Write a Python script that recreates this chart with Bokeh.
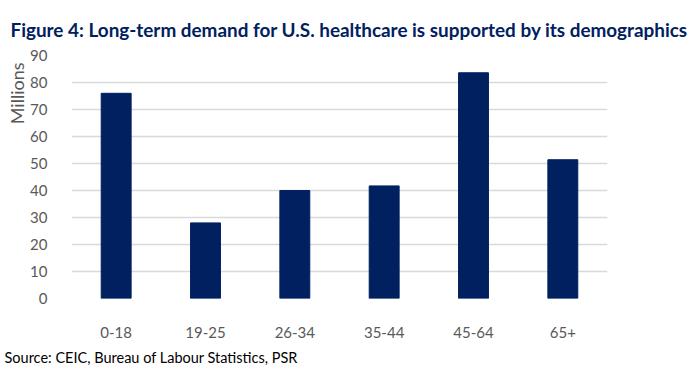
import math
from bokeh.plotting import figure
from bokeh.models import Title, FixedTicker, Range1d
from bokeh.embed import file_html
from bokeh.resources import INLINE

categories = ["0-18", "19-25", "26-34", "35-44", "45-64", "65+"]
values = [76.0, 28.0, 40.0, 41.7, 83.6, 51.4]
y_ticks = [0, 10, 20, 30, 40, 50, 60, 70, 80, 90]

title_text = "Figure 4: Long-term demand for U.S. healthcare is supported by its demographics"
source_text = "Source: CEIC, Bureau of Labour Statistics, PSR"
y_label = "Millions"

NAVY = "#002060"
GREY = "#595959"
FONT = "Lato"

p = figure(width=696, height=377, x_range=categories, y_range=Range1d(0, 90),
           output_backend="svg", toolbar_location=None,
           min_border_left=71, min_border_right=89, min_border_top=55, min_border_bottom=79)
p.outline_line_color = None
p.background_fill_color = "white"
p.border_fill_color = "white"

p.vbar(x=categories, top=values, width=0.335, color=NAVY)

p.xgrid.grid_line_color = None
p.ygrid.grid_line_color = "#D9D9D9"
p.ygrid.grid_line_width = 1.5
p.yaxis.ticker = FixedTicker(ticks=y_ticks)

for ax in (p.xaxis, p.yaxis):
    ax.axis_line_color = None
    ax.major_tick_line_color = None
    ax.minor_tick_line_color = None
    ax.major_label_text_font = FONT
    ax.major_label_text_font_size = "15px"
    ax.major_label_text_color = GREY
p.xaxis.major_label_standoff = 22
p.yaxis.major_label_standoff = 18

p.title.text = title_text
p.title.text_font = FONT
p.title.text_font_style = "bold"
p.title.text_font_size = "18.9px"
p.title.text_color = NAVY
p.title.align = "left"
p.title.offset = -61
p.title.standoff = 30

p.add_layout(Title(text=source_text, align="left", offset=-67, text_font=FONT,
                   text_font_size="14.5px", text_font_style="normal",
                   text_color="#000000", standoff=12), "below")
p.add_layout(Title(text=y_label, align="right", offset=7, text_font=FONT,
                   text_font_size="18px", text_font_style="normal",
                   text_color=GREY, standoff=0), "left")

open("out.html", "w").write(file_html(p, INLINE))
